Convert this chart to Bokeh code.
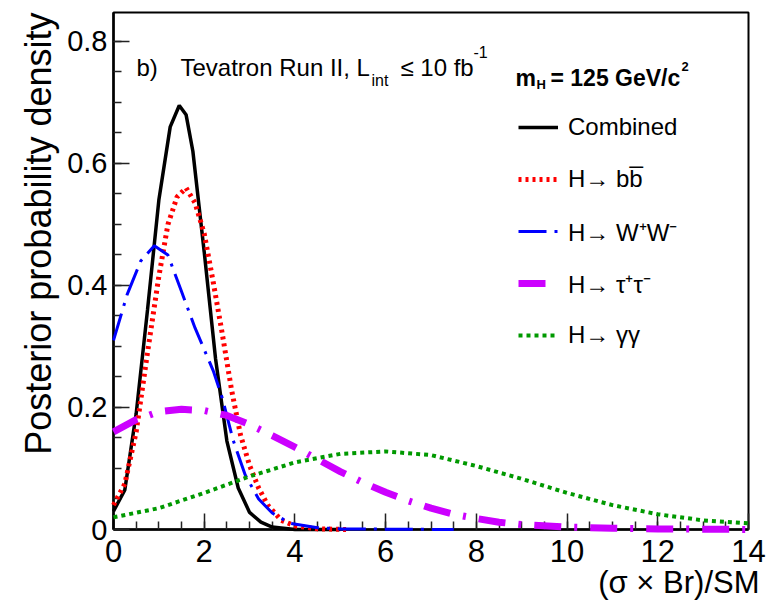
from bokeh.plotting import figure
from bokeh.models import Range1d, FixedTicker, Label, Legend, LegendItem, Title
from bokeh.embed import file_html
from bokeh.resources import INLINE

# ---- data ----
comb_x = [0, 0.25, 0.5, 0.75, 1.0, 1.25, 1.45, 1.6, 1.75, 2.0, 2.25, 2.5, 2.75, 3.0, 3.25, 3.5, 4.0, 5.0]
comb_y = [0.03, 0.065, 0.19, 0.36, 0.54, 0.66, 0.695, 0.68, 0.62, 0.455, 0.28, 0.145, 0.068, 0.028, 0.012, 0.004, 0.0, 0.0]

bb_x = [0, 0.25, 0.5, 0.75, 1.0, 1.2, 1.4, 1.6, 1.8, 2.0, 2.2, 2.4, 2.6, 2.8, 3.0, 3.2, 3.4, 3.7, 4.0, 4.5, 5.2]
bb_y = [0.04, 0.075, 0.16, 0.29, 0.415, 0.50, 0.545, 0.56, 0.535, 0.485, 0.405, 0.32, 0.23, 0.155, 0.105, 0.068, 0.04, 0.015, 0.006, 0.001, 0.0]

ww_x = [0, 0.3, 0.6, 0.9, 1.2, 1.5, 1.8, 2.2, 2.4, 2.64, 2.9, 3.2, 3.5, 3.9, 4.5, 5.0, 7.5]
ww_y = [0.31, 0.385, 0.44, 0.465, 0.45, 0.39, 0.33, 0.26, 0.215, 0.146, 0.09, 0.05, 0.027, 0.01, 0.003, 0.001, 0.0]

tt_x = [0, 0.5, 1.0, 1.5, 2.0, 2.5, 3.0, 3.5, 4.0, 4.5, 5.0, 5.5, 6.0, 6.5, 7.0, 7.5, 8.0, 8.5, 9.0, 10, 11, 12, 14]
tt_y = [0.16, 0.18, 0.193, 0.197, 0.195, 0.187, 0.172, 0.154, 0.135, 0.115, 0.095, 0.077, 0.061, 0.047, 0.035, 0.025, 0.018, 0.012, 0.008, 0.004, 0.002, 0.001, 0.0]

gg_x = [0, 1, 2, 3, 4, 5, 6, 7, 8, 9, 10, 11, 12, 13, 14]
gg_y = [0.02, 0.035, 0.06, 0.087, 0.11, 0.124, 0.128, 0.122, 0.104, 0.083, 0.06, 0.04, 0.025, 0.015, 0.01]

x_ticks = [0, 2, 4, 6, 8, 10, 12, 14]
x_tick_labels = ["0", "2", "4", "6", "8", "10", "12", "14"]
y_ticks = [0, 0.2, 0.4, 0.6, 0.8]
y_tick_labels = ["0", "0.2", "0.4", "0.6", "0.8"]

labels = ["Combined", "H\u2192 bb\u0305", "H\u2192 W\u207aW\u207b", "H\u2192 \u03c4\u207a\u03c4\u207b", "H\u2192 \u03b3\u03b3"]

SANS = "Liberation Sans"

p = figure(width=769, height=606, x_range=Range1d(0, 14), y_range=Range1d(0, 0.8475),
           output_backend="svg", toolbar_location=None, title=None,
           min_border_left=113, min_border_right=21, min_border_top=12, min_border_bottom=77)
p.background_fill_color = "white"
p.border_fill_color = "white"
p.outline_line_color = "black"
p.outline_line_width = 2
p.xgrid.visible = False
p.ygrid.visible = False

p.xaxis.ticker = FixedTicker(ticks=x_ticks, minor_ticks=[i * 0.5 for i in range(29)])
p.yaxis.ticker = FixedTicker(ticks=y_ticks, minor_ticks=[i * 0.05 for i in range(17)])
p.xaxis.major_label_overrides = dict(zip(x_ticks, x_tick_labels))
p.yaxis.major_label_overrides = dict(zip(y_ticks, y_tick_labels))
for ax in (p.xaxis[0], p.yaxis[0]):
    ax.axis_line_width = 2.5
    ax.axis_line_color = "black"
    ax.major_tick_in = 16
    ax.major_tick_out = 0
    ax.minor_tick_in = 8
    ax.minor_tick_out = 0
    ax.major_tick_line_color = "#222222"
    ax.minor_tick_line_color = "#222222"
    ax.major_tick_line_width = 1.5
    ax.minor_tick_line_width = 1.5
    ax.major_label_text_color = "black"
    ax.major_label_text_font = SANS
p.xaxis.major_label_text_font_size = "31px"
p.xaxis.major_label_standoff = 10
p.yaxis.major_label_text_font_size = "29px"
p.yaxis.major_label_standoff = 6

r_comb = p.line(comb_x, comb_y, line_color="black", line_width=3.5)
r_bb = p.line(bb_x, bb_y, line_color="#ff0000", line_width=5, line_dash="3 4")
r_ww = p.line(ww_x, ww_y, line_color="#0000ff", line_width=3, line_dash="28 8 3 8")
r_tt = p.line(tt_x, tt_y, line_color="#cc00ff", line_width=7, line_dash="27 13 3 13")
r_gg = p.line(gg_x, gg_y, line_color="#009900", line_width=4, line_dash="4 4")
for r in (r_comb, r_bb, r_ww, r_tt, r_gg):
    r.level = "overlay"

legend = Legend(items=[LegendItem(label=l, renderers=[r]) for l, r in
                       zip(labels, [r_comb, r_bb, r_ww, r_tt, r_gg])],
                location=(405, 174), orientation="vertical",
                glyph_width=40, glyph_height=40, label_height=40, spacing=12,
                label_standoff=10, padding=0, margin=0,
                border_line_color=None, background_fill_alpha=0,
                label_text_font=SANS, label_text_font_size="24px", label_text_color="black")
p.add_layout(legend, "center")

# axis titles, ROOT style: aligned to the far end of each axis
p.add_layout(Title(text="Posterior probability density", align="right",
                   text_font=SANS, text_font_size="36px", text_font_style="normal",
                   text_color="black", standoff=12), "left")
p.add_layout(Title(text="(\u03c3 \u00d7 Br)/SM", align="right",
                   text_font=SANS, text_font_size="31px", text_font_style="normal",
                   text_color="black", standoff=-4, offset=-11), "below")


def lab(text, sx, sy, size, style="normal"):
    p.add_layout(Label(x=sx, y=sy, x_units="screen", y_units="screen", text=text,
                       text_font=SANS, text_font_size=f"{size}px", text_font_style=style,
                       text_align="left", text_baseline="alphabetic", text_color="black"))

# frame origin is at (113, 529) in page pixels
lab("b)", 136 - 113, 529 - 67, 24)
lab("Tevatron Run II, L", 180 - 113, 529 - 67, 24)
lab("int", 371 - 113, 529 - 80, 16)
lab("\u2264 10 fb", 400 - 113, 529 - 67, 24)
lab("-1", 473 - 113, 529 - 51, 16)

lab("m", 515 - 113, 529 - 77, 23, style="bold")
lab("H", 536 - 113, 529 - 84, 13, style="bold")
lab("= 125 GeV/c", 550 - 113, 529 - 77, 23, style="bold")
lab("2", 681 - 113, 529 - 66, 13, style="bold")

open("out.html", "w").write(file_html(p, INLINE))
